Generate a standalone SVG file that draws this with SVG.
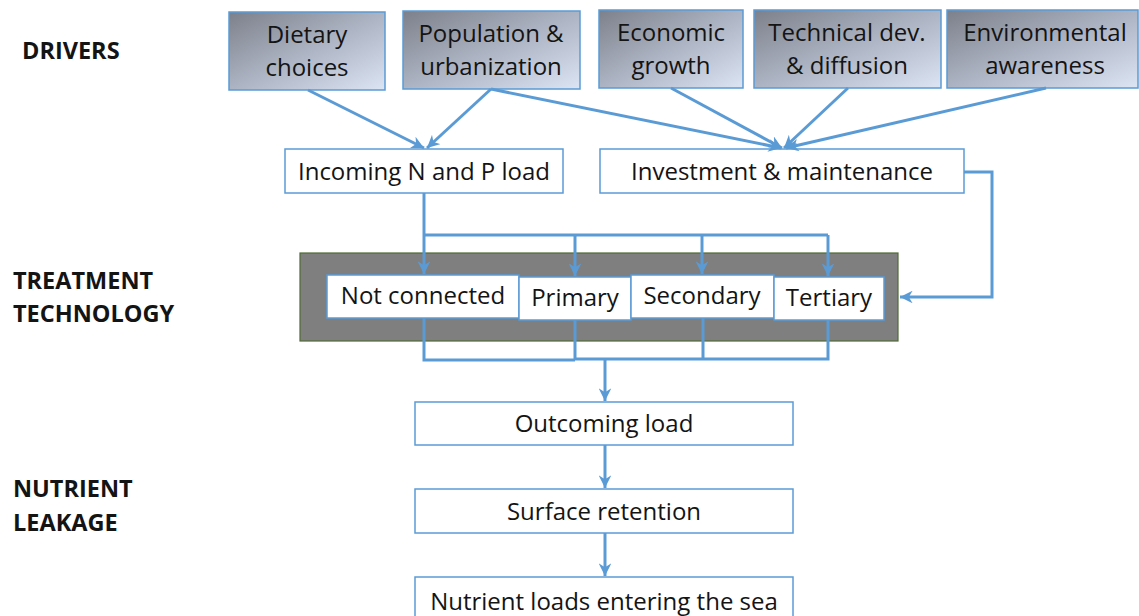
<svg xmlns="http://www.w3.org/2000/svg" width="1139" height="616" viewBox="0 0 1139 616">
<defs>
<linearGradient id="drv" x1="0" y1="0" x2="1" y2="1">
<stop offset="0" stop-color="#7c808a"/>
<stop offset="0.5" stop-color="#acb3c2"/>
<stop offset="1" stop-color="#dce5f4"/>
</linearGradient>
<marker id="ah" viewBox="0 0 10 10" refX="10" refY="5" markerWidth="4.2" markerHeight="4.2" markerUnits="strokeWidth" orient="auto">
<path d="M0,0 L10,5 L0,10 L3,5 Z" fill="#5b9bd5"/>
</marker>
<style>
.drv{fill:url(#drv);stroke:#5b9bd5;stroke-width:1.5}
.box{fill:#ffffff;stroke:#5b9bd5;stroke-width:1.5}
.t{font-family:"Open Sans","Liberation Sans",sans-serif;font-size:24px;fill:#141414;text-anchor:middle}
.lab{font-family:"Open Sans","Liberation Sans",sans-serif;font-size:23.5px;font-weight:bold;fill:#141414}
.c{fill:none;stroke:#5b9bd5;stroke-width:3}
.ca{fill:none;stroke:#5b9bd5;stroke-width:3;marker-end:url(#ah)}
</style>
</defs>
<rect width="1139" height="616" fill="#ffffff"/>

<g id="labels">
<text class="lab" x="22" y="59">DRIVERS</text>
<text class="lab" x="13" y="289">TREATMENT</text>
<text class="lab" x="13" y="322">TECHNOLOGY</text>
<text class="lab" x="13" y="497">NUTRIENT</text>
<text class="lab" x="13" y="531">LEAKAGE</text>
</g>

<g id="dietary"><rect class="drv" x="229" y="12" width="156" height="78"/><text class="t" x="307" y="43">Dietary</text><text class="t" x="307" y="76">choices</text></g>
<g id="population"><rect class="drv" x="403" y="11" width="177" height="78"/><text class="t" x="491" y="42">Population &amp;</text><text class="t" x="491" y="75">urbanization</text></g>
<g id="economic"><rect class="drv" x="599" y="10" width="144" height="78"/><text class="t" x="671" y="41">Economic</text><text class="t" x="671" y="74">growth</text></g>
<g id="technical"><rect class="drv" x="754" y="10" width="187" height="78"/><text class="t" x="847" y="41">Technical dev.</text><text class="t" x="847" y="74">&amp; diffusion</text></g>
<g id="environmental"><rect class="drv" x="947" y="10" width="191" height="78"/><text class="t" x="1045" y="41">Environmental</text><text class="t" x="1045" y="74">awareness</text></g>

<g id="incoming"><rect class="box" x="285" y="149" width="278" height="44"/><text class="t" x="424" y="180">Incoming N and P load</text></g>
<g id="investment"><rect class="box" x="600" y="149" width="364" height="44"/><text class="t" x="782" y="180">Investment &amp; maintenance</text></g>

<g id="treatment">
<rect x="300" y="253" width="598" height="88" fill="#7f7f7f" stroke="#4f6b35" stroke-width="1.2"/>
</g>
<g id="notconnected"><rect class="box" x="327" y="275" width="192" height="43"/><text class="t" x="423" y="304">Not connected</text></g>
<g id="primary"><rect class="box" x="519" y="277" width="112" height="43"/><text class="t" x="575" y="306">Primary</text></g>
<g id="secondary"><rect class="box" x="631" y="275" width="143" height="43"/><text class="t" x="702" y="304">Secondary</text></g>
<g id="tertiary"><rect class="box" x="774" y="277" width="110" height="43"/><text class="t" x="829" y="306">Tertiary</text></g>

<g id="outcoming"><rect class="box" x="415" y="402" width="378" height="43"/><text class="t" x="604" y="432">Outcoming load</text></g>
<g id="surface"><rect class="box" x="415" y="489" width="378" height="44"/><text class="t" x="604" y="520">Surface retention</text></g>
<g id="sea"><rect class="box" x="415" y="577" width="378" height="45"/><text class="t" x="604" y="610">Nutrient loads entering the sea</text></g>

<g id="connectors">
<path class="ca" d="M308,90 L424,148"/>
<path class="ca" d="M491,89 L427,148"/>
<path class="ca" d="M491,89 L781,148"/>
<path class="ca" d="M671,88 L782,148"/>
<path class="ca" d="M848,88 L784,148"/>
<path class="ca" d="M1046,88 L786,148"/>
<path class="ca" d="M424,193 V274"/>
<path class="c" d="M424,235 H828"/>
<path class="ca" d="M575,235 V276"/>
<path class="ca" d="M702,235 V274"/>
<path class="ca" d="M828,235 V276"/>
<path class="c" d="M424,318 V360 H575 M575,320 V359 H828 V320 M703,318 V359"/>
<path class="ca" d="M605,359 V401"/>
<path class="ca" d="M605,445 V488"/>
<path class="ca" d="M605,533 V576"/>
<path class="ca" d="M964,172 H992 V297 H900"/>
</g>
</svg>
